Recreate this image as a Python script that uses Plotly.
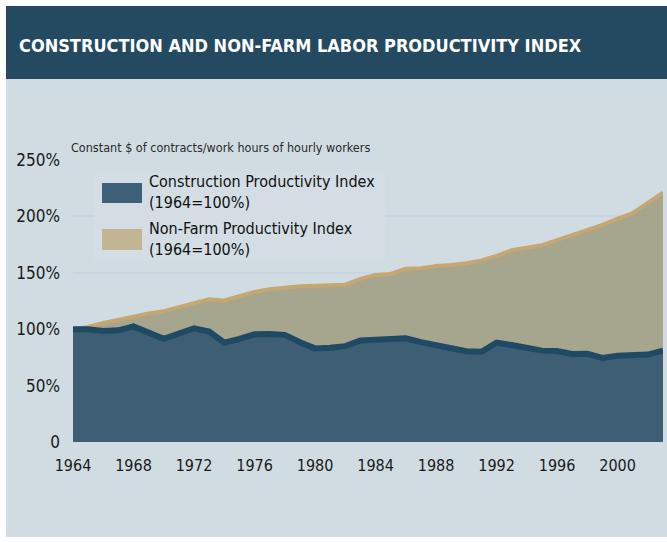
import plotly.graph_objects as go

years = list(range(1964, 2004))
construction = [100, 100, 98.5, 99, 102.5, 97, 91.5, 96, 100.8, 98,
                88, 91.5, 95.5, 95.7, 95, 88.5, 83, 83.5, 85, 90,
                91, 91.5, 91.9, 88.5, 85.5, 83, 80.5, 80, 88, 86,
                83, 81, 80.7, 78, 78.2, 74.5, 76.5, 77, 77.5, 81]
nonfarm = [100, 102, 105.5, 108.5, 111.5, 114, 116, 119.5, 123, 126.5,
           125.5, 129, 133, 135.5, 137, 138, 138.5, 139, 139.5, 144.5,
           148, 149, 153.5, 154, 156, 157, 158.5, 161, 165, 170,
           172, 174.5, 179, 183.5, 188, 192.5, 198, 203, 212, 221]
ytick_vals = [0, 50, 100, 150, 200, 250]
ytick_text = ["0", "50%", "100%", "150%", "200%", "250%"]
xtick_vals = [1964, 1968, 1972, 1976, 1980, 1984, 1988, 1992, 1996, 2000]
title_text = "CONSTRUCTION AND NON-FARM LABOR PRODUCTIVITY INDEX"
axis_note = "Constant $ of contracts/work hours of hourly workers"
legend_labels = ["Construction Productivity Index<br>(1964=100%)",
                 "Non-Farm Productivity Index<br>(1964=100%)"]

FONT = "DejaVu Sans Condensed, Liberation Sans Narrow, Arial Narrow, sans-serif"
W, H = 667, 542
L, R, T, B = 73, 4, 160, 100
PW, PH = W - L - R, H - T - B


def px(x):
    return (x - L) / PW


def py(y):
    return (H - B - y) / PH


fig = go.Figure()
fig.add_trace(go.Scatter(
    x=years, y=nonfarm, mode="lines", fill="tozeroy",
    fillcolor="rgba(160,156,128,0.87)",
    line=dict(color="#c6a772", width=4), showlegend=False,
    hoverinfo="x+y"))
fig.add_trace(go.Scatter(
    x=years, y=construction, mode="lines", fill="tozeroy",
    fillcolor="#3e5e73",
    line=dict(color="#1e4a66", width=6), showlegend=False,
    hoverinfo="x+y"))

shapes = [
    # light page background
    dict(type="rect", xref="paper", yref="paper", layer="below",
         x0=px(6), x1=px(W), y0=py(6), y1=py(537),
         fillcolor="#d0dce2", line=dict(width=0)),
    # header bar
    dict(type="rect", xref="paper", yref="paper", layer="below",
         x0=px(6), x1=px(W), y0=py(6), y1=py(79),
         fillcolor="#244a61", line=dict(width=0)),
    # legend box
    dict(type="rect", xref="paper", yref="paper", layer="above",
         x0=px(94), x1=px(385), y0=py(173), y1=py(261),
         fillcolor="#d3dde3", line=dict(width=0)),
    dict(type="rect", xref="paper", yref="paper", layer="above",
         x0=px(102), x1=px(142), y0=py(183), y1=py(203),
         fillcolor="#3f6079", line=dict(width=0)),
    dict(type="rect", xref="paper", yref="paper", layer="above",
         x0=px(102), x1=px(142), y0=py(229), y1=py(250),
         fillcolor="#c2b593", line=dict(width=0)),
]

annotations = [
    dict(text=f"<b>{title_text}</b>", xref="paper", yref="paper",
         x=px(17), y=py(45), xanchor="left", yanchor="middle",
         showarrow=False, font=dict(family=FONT, size=18, color="white")),
    dict(text=axis_note, xref="paper", yref="paper",
         x=px(69), y=py(147), xanchor="left", yanchor="middle",
         showarrow=False, font=dict(family=FONT, size=12.5, color="#2a2a2a")),
    dict(text=legend_labels[0], xref="paper", yref="paper",
         x=px(147), y=py(192), xanchor="left", yanchor="middle", align="left",
         showarrow=False, font=dict(family=FONT, size=16, color="#111111")),
    dict(text=legend_labels[1], xref="paper", yref="paper",
         x=px(147), y=py(239), xanchor="left", yanchor="middle", align="left",
         showarrow=False, font=dict(family=FONT, size=16, color="#111111")),
]

fig.update_layout(
    width=W, height=H, autosize=False,
    margin=dict(l=L, r=R, t=T, b=B, pad=0),
    paper_bgcolor="white", plot_bgcolor="#7a95a6",
    shapes=shapes, annotations=annotations,
    showlegend=False,
    font=dict(family=FONT, size=17, color="#1a1a1a"),
)
fig.update_xaxes(range=[1964, 2003], tickvals=xtick_vals, showgrid=False,
                 zeroline=False, showline=False, ticks="",
                 ticklabelstandoff=12,
                 tickfont=dict(family=FONT, size=16, color="#1a1a1a"))
fig.update_yaxes(range=[0, 250], tickvals=ytick_vals, ticktext=ytick_text,
                 showgrid=True, gridcolor="#c9d5dc", gridwidth=2,
                 zeroline=False, showline=False, ticks="",
                 ticklabelstandoff=12,
                 tickfont=dict(family=FONT, size=17, color="#1a1a1a"))

fig.write_html("out.html")
